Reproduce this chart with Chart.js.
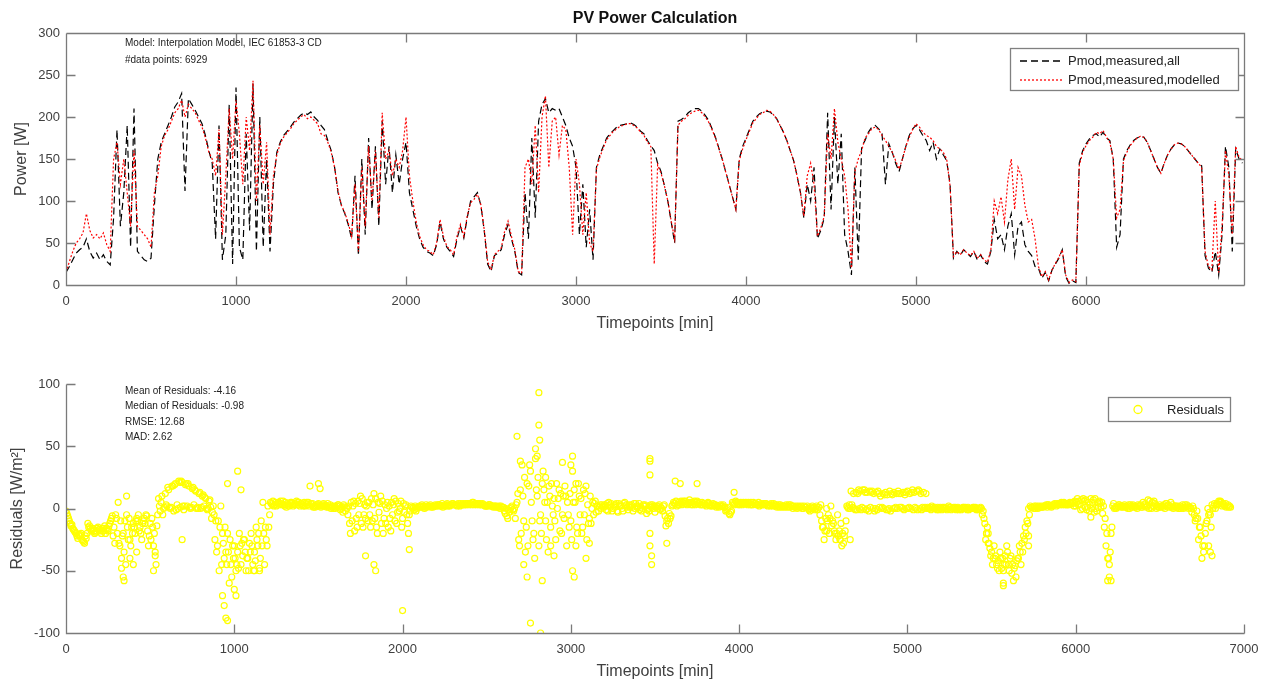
<!DOCTYPE html>
<html lang="en">
<head>
<meta charset="UTF-8">
<title>PV Power Calculation</title>
<script src="https://cdn.jsdelivr.net/npm/chart.js"></script>
<style>
    body { margin: 0; background: #fff; }
    #wrap { position: relative; width: 1274px; height: 681px; }
    canvas { position: absolute; left: 0; }
    #powerChart { top: 0; }
    #residualChart { top: 340px; }
</style>
</head>
<body>
<div id="wrap">
    <canvas id="powerChart" width="1274" height="340"></canvas>
    <canvas id="residualChart" width="1274" height="341"></canvas>
</div>
<script>
// sample spacing of the series [min]
const STEP = 20;

const powerTimeTicks = [0, 1000, 2000, 3000, 4000, 5000, 6000];
const residualTimeTicks = [0, 1000, 2000, 3000, 4000, 5000, 6000, 7000];

// measured module power [W], one value every STEP minutes from t = 0
const pMeasured = [
    15, 22, 30, 38, 42, 45, 55, 40, 32, 38,
    30, 36, 28, 24, 80, 185, 70, 110, 190, 45,
    210, 40, 35, 30, 28, 32, 95, 150, 170, 180,
    190, 200, 212, 218, 228, 112, 222, 215, 208, 200,
    192, 178, 160, 145, 55, 190, 30, 60, 215, 25,
    235, 45, 30, 180, 65, 240, 40, 200, 45, 150,
    40, 120, 158, 170, 178, 183, 188, 194, 198, 202,
    205, 203, 206, 200, 196, 190, 185, 172, 160, 140,
    110, 95, 85, 72, 55, 130, 35, 150, 60, 175,
    90, 165, 70, 195, 120, 165, 110, 155, 120, 150,
    170, 110, 90, 70, 55, 45, 40, 38, 35, 48,
    75, 55, 45, 40, 34, 55, 70, 56, 80, 100,
    105, 110, 95, 65, 25, 16, 35, 38, 42, 60,
    72, 55, 40, 15, 12, 110, 55, 175, 80, 195,
    215, 222, 205, 210, 208, 210, 200, 190, 175, 165,
    140, 60, 120, 45, 90, 30, 140, 155, 165, 175,
    180, 184, 188, 190, 191, 192, 193, 191, 188, 183,
    180, 172, 166, 160, 145, 135, 118, 100, 75, 50,
    195, 197, 200, 205, 208, 210, 210, 207, 202, 196,
    186, 176, 163, 150, 135, 120, 105, 90, 150, 165,
    175, 185, 195, 200, 204, 206, 207, 206, 203, 198,
    190, 182, 172, 160, 148, 130, 110, 80, 120, 100,
    140, 55, 65, 80, 205, 90, 200, 120, 180, 60,
    40, 12, 140, 30, 165, 172, 182, 188, 190, 186,
    180, 120, 168, 158, 145, 135, 150, 165, 178, 186,
    190, 185, 178, 172, 160, 170, 150, 162, 155, 148,
    120, 32, 40, 35, 42, 38, 34, 40, 30, 36,
    28, 25, 40, 78, 55, 60, 42, 70, 85, 36,
    70, 75, 48, 40, 35, 22, 20, 8, 15, 5,
    18, 25, 32, 42, 10, 2, 5, 3, 145, 160,
    168, 174, 178, 180, 176, 182, 175, 172, 150, 45,
    60, 150, 160, 167, 172, 175, 177, 176, 170, 160,
    150, 140, 133, 145, 155, 162, 167, 169, 168, 165,
    160, 155, 150, 145, 142, 35, 20, 15, 40, 12,
    60, 165, 140, 40, 162, 150, 145
];

// modelled module power [W], same time grid
const pModelled = [
    15, 28, 40, 50, 55, 62, 85, 65, 56, 60,
    55, 62, 48, 40, 150, 170, 120, 150, 110, 70,
    160, 70, 65, 60, 55, 45, 110, 130, 165, 178,
    185, 195, 205, 210, 220, 200, 215, 210, 205, 196,
    188, 175, 158, 150, 130, 185, 60, 130, 210, 150,
    220, 180, 120, 200, 160, 243, 100, 190, 120, 170,
    60, 130, 155, 168, 176, 181, 186, 192, 196, 200,
    203, 198, 200, 196, 192, 180, 178, 170, 158, 140,
    112, 95, 86, 74, 58, 120, 40, 140, 70, 165,
    100, 160, 80, 205, 150, 160, 130, 150, 140, 160,
    200, 130, 100, 75, 58, 48, 42, 40, 36, 50,
    78, 58, 46, 42, 36, 58, 72, 58, 82, 98,
    102, 108, 96, 66, 28, 18, 36, 40, 44, 64,
    76, 58, 42, 16, 14, 140, 150, 120, 190, 110,
    200, 225, 140, 195, 200, 155, 190, 185, 140, 60,
    150, 120, 60, 110, 50, 40, 138, 152, 163, 173,
    178, 183, 186, 189, 190, 192, 192, 190, 187, 182,
    178, 170, 165, 25, 143, 133, 118, 100, 76, 55,
    190, 195, 198, 202, 205, 207, 208, 205, 200, 194,
    185, 175, 162, 150, 135, 120, 105, 90, 148, 162,
    173, 183, 193, 198, 203, 205, 208, 207, 203, 198,
    190, 182, 172, 160, 148, 130, 110, 82, 130, 145,
    120, 58, 68, 82, 180, 150, 210, 170, 150, 130,
    90, 20, 135, 150, 160, 175, 180, 186, 188, 185,
    178, 172, 165, 158, 148, 138, 150, 165, 176, 185,
    192, 188, 182, 178, 176, 172, 165, 162, 158, 150,
    118, 34, 40, 36, 42, 38, 35, 40, 32, 36,
    30, 27, 42, 100, 85, 105, 75, 125, 150, 90,
    140, 130, 95, 75, 78, 55, 22, 10, 16, 6,
    18, 26, 33, 42, 12, 3, 6, 4, 142, 158,
    166, 172, 176, 182, 180, 184, 176, 170, 150, 80,
    90, 148, 158, 166, 171, 175, 177, 176, 170, 160,
    150, 140, 133, 145, 155, 162, 167, 169, 168, 165,
    160, 155, 150, 145, 140, 40, 22, 18, 100, 15,
    70, 160, 130, 60, 165, 152, 148
];

// residuals [W/m²] at t = 0, 20, 40 ...
const res00 = [
    -2, -10, -16, -20, -22, -26, -24, -14, -16, -18,
    -17, -18, -16, -12, -22, -8, -30, -20, -5, -25,
    -12, -8, -15, -10, -6, -12, -30, -14, -2, 0,
    2, 0, -2, 3, 1, -1, 2, 0, 3, 1,
    0, 2, -1, 1, -5, -30, 2, -40, -20, -45,
    -30, -35, -45, -25, -40, -20, -35, -30, -10, -45,
    2, 4, 3, 5, 4, 2, 3, 5, 4, 3,
    4, 2, 5, 3, 1, 4, 2, 3, 1, 2,
    0, 3, 1, -2, 2, -10, 4, -5, 8, -8,
    5, -10, 8, -3, 6, -12, 2, -5, 6, -2,
    -8, 3, -5, 0, -2, 2, 1, 3, 2, 1,
    2, 3, 1, 3, 2, 4, 3, 2, 4, 3,
    4, 5, 3, 4, 3, 2, 3, 1, 2, 0,
    1, -6, 0, -2, 5, 15, -10, 20, 30, -20,
    10, -5, 15, 5, -15, 8, 0, 12, -8, 5,
    -10, 15, -20, 8, -5, 3, -12, 4, 2, 0,
    3, -2, 4, 1, -3, 2, 5, -1, 3, 0,
    2, -2, 3, 0, 1, -3, 2, 0, -6, -12,
    2, 4, 5, 3, 6, 4, 5, 3, 4, 5,
    3, 4, 2, 3, 1, 2, -2, -4, 5, 6,
    4, 3, 5, 4, 3, 4, 2, 3, 4, 3,
    2, 3, 1, 2, 3, 1, 0, 2, 1, 0,
    1, -2, 0, 2, -5, -15, 0, -8, -12, -20,
    -25, -28, 2, 0, 12, -1, 14, 0, 13, 1,
    12, -1, 10, 0, 11, -2, 13, 0, 12, -1,
    14, 0, 13, -1, 12, 0, 1, -1, 0, 1,
    0, 1, 0, -1, 0, 1, -1, 0, 1, 0,
    0, -1, 0, -12, -20, -35, -40, -42, -48, -38,
    -45, -52, -46, -40, -28, -15, 0, 1, 0, 2,
    1, 2, 3, 2, 3, 4, 3, 4, 3, 5,
    2, 6, 0, 7, -2, 5, 0, 6, -4, -30,
    -45, 2, 0, 3, 1, 2, 0, 3, 1, 2,
    5, 1, 6, 2, 0, 3, 1, 4, 2, 0,
    1, 2, 0, 3, 1, 0, -2, -15, -35, -10,
    -5, 2, 4, 6, 3, 2, 1
];

// residuals [W/m²] at t = 5, 25, 45 ...
const res05 = [
    -4, -12, -17, -22, -21, -27, -20, -16, -18, -16,
    -18, -16, -17, -10, -15, -20, -10, -35, -15, -30,
    -15, -10, -20, -8, -18, -25, -20, -5, 5, 1,
    17, 1, 19, 0, 22, 2, 20, 1, 15, 0,
    1, 9, 0, -8, -25, -10, -45, -15, -35, -55,
    -40, -48, -28, -35, -50, -30, -42, -20, -30, -15,
    -15, 3, 5, 4, 3, 5, 2, 4, 3, 5,
    3, 4, 2, 4, 2, 3, 3, 2, 2, 1,
    1, 2, -3, 1, -12, 2, -8, 4, -15, 2,
    -5, 3, -15, 4, -20, 0, -8, 3, -12, 0,
    4, -5, -2, 1, 0, 1, 2, 1, 3, 2,
    2, 2, 2, 4, 3, 3, 2, 4, 3, 4,
    4, 3, 4, 3, 3, 2, 2, 2, 1, 2,
    -2, -8, 1, 0, 12, -20, 25, -30, 5, -40,
    25, -20, 5, -35, 20, -10, 8, -20, 18, -5,
    -25, 5, 20, -20, 12, -12, 0, 6, -2, 3,
    2, 5, -2, 3, 4, 0, 2, 3, 1, 4,
    4, 0, 2, -2, 3, 1, 3, -2, -14, -4,
    3, 6, 3, 5, 4, 7, 3, 5, 5, 3,
    2, 3, 4, 1, 2, 3, -1, -5, 4, 5,
    3, 5, 4, 3, 5, 3, 3, 4, 3, 2,
    4, 1, 3, 2, 1, 3, 2, 0, 1, 2,
    2, 0, 1, -1, 3, -25, -10, 2, -18, -5,
    -12, -22, 1, 14, 0, 12, -1, 15, 0, 13,
    -2, 14, 0, 11, -1, 12, 0, 14, 1, 11,
    0, 13, 1, 15, -1, 1, 0, 2, 1, -1,
    -1, 0, 2, 0, 1, -1, 0, 1, -1, 0,
    1, 0, -5, -25, -28, -45, -38, -50, -40, -45,
    -50, -45, -55, -30, -35, -20, -5, 1, 2, 1,
    1, 3, 2, 3, 2, 4, 4, 3, 5, 4,
    5, 3, 8, -1, 3, 7, -2, 4, 2, -20,
    -35, 4, 1, 2, 2, 1, 3, 2, 0, 3,
    3, 2, 1, 6, 2, 1, 3, 2, 5, 1,
    2, 0, 1, 2, 0, -5, -8, -22, -30, 0,
    -15, 4, 3, 5, 2, 3
];

// residuals [W/m²] at t = 10, 30, 50 ...
const res10 = [
    -6, -14, -18, -24, -20, -28, -12, -18, -20, -15,
    -20, -14, -18, -8, -28, 5, -40, -10, -25, -15,
    -20, -5, -25, -12, -30, -8, -35, 8, 10, 12,
    15, 18, 20, 22, 21, 19, 18, 16, 14, 12,
    10, 8, 6, -3, -10, -50, -20, -35, -60, -30,
    -50, -20, -38, -50, -28, -45, -15, -50, 5, -25,
    -5, 6, 2, 3, 6, 1, 4, 2, 6, 2,
    2, 5, 18, 1, 3, 2, 4, 1, 3, 0,
    2, -1, 3, 0, -20, 6, -15, 10, -5, 5,
    -15, 12, -20, 10, -8, 5, -18, 8, -3, 6,
    -3, -12, 2, -1, 1, 2, 0, 2, 1, 2,
    3, 2, 3, 2, 3, 3, 4, 3, 3, 4,
    3, 4, 4, 3, 2, 3, 2, 2, 1, 1,
    -4, -1, 2, -8, -25, 35, -35, 18, -10, 40,
    -30, 20, -10, 18, 2, -25, 15, -5, 10, -15,
    30, -30, 10, -15, 18, -8, 5, -3, 1, 2,
    -1, 3, 0, 4, 2, -2, 3, 1, -2, 2,
    -1, 3, -4, 2, 0, 2, -1, 2, -10, -8,
    5, 2, 4, 6, 3, 5, 4, 6, 3, 4,
    4, 2, 3, 2, 3, 1, 0, -3, 3, 4,
    5, 4, 3, 5, 4, 3, 4, 3, 2, 4,
    3, 2, 2, 1, 2, 2, 1, 1, 2, 1,
    0, 1, -1, 1, -10, -18, -5, -14, -20, -22,
    -30, -18, 0, 3, -1, 15, 1, 13, -2, 14,
    0, 12, 1, 13, 0, 11, 1, 12, 0, 13,
    1, 15, 0, 14, 1, 12, 0, 1, 0, 0,
    1, 0, 1, 0, -1, 0, 1, 0, 0, 1,
    -1, 0, -2, -20, -32, -40, -45, -35, -50, -30,
    -40, -58, -42, -35, -22, -10, 2, 0, 1, 1,
    2, 1, 2, 3, 4, 3, 5, 3, 4, 2,
    8, -1, 6, 1, 8, -3, 5, 1, -15, -58,
    -20, 0, 2, 1, 3, 0, 2, 1, 3, 1,
    2, 7, 0, 4, 1, 2, 0, 3, 1, 2,
    0, 1, 3, 0, -3, -10, -25, -40, -20, -5,
    3, 0, 6, 2, 4, 1
];

// residuals [W/m²] at t = 15, 35, 55 ...
const res15 = [
    -8, -13, -19, -21, -25, -22, -15, -17, -19, -17,
    -16, -20, -14, -6, -5, -28, -22, -45, -8, -20,
    -10, -18, -12, -5, -22, -15, -45, 2, -5, 3,
    1, 18, -1, 21, 2, 20, 1, 17, 0, 13,
    11, 0, 7, 2, -35, -15, -28, -45, -25, -40,
    -45, -30, -25, -40, -35, -50, -25, -40, -20, -30,
    5, 2, 4, 6, 3, 4, 5, 3, 5, 4,
    5, 3, 4, 2, 3, 1, 2, 4, 0, 2,
    3, 0, 2, -5, 5, -18, 6, -12, 3, -10,
    8, -8, 5, -12, 3, -15, 5, -10, 4, -15,
    2, -20, 1, 2, 1, 3, 1, 2, 2, 3,
    3, 4, 2, 3, 4, 3, 3, 3, 4, 3,
    5, 4, 3, 4, 2, 3, 2, 1, 2, 1,
    0, -3, -1, 3, -30, 10, -15, 35, -25, 15,
    -10, 30, -25, 10, -5, 20, -18, 10, -30, 12,
    5, -15, -5, 15, -25, 10, -5, 2, 3, 1,
    4, 1, 3, -2, 3, 4, 1, 2, 4, 1,
    1, 2, -1, 3, 2, 0, 1, 3, -8, -6,
    4, 3, 6, 4, 5, 3, 6, 4, 3, 4,
    5, 3, 3, 2, 2, 1, 1, -2, 4, 3,
    4, 4, 5, 3, 4, 5, 3, 4, 3, 3,
    2, 3, 1, 2, 3, 2, 1, 2, 0, 1,
    -1, 2, 0, 1, -15, -8, -20, -10, -25, -18,
    -20, -10, 3, 1, 13, 0, 15, -1, 14, 0,
    13, 1, 12, -1, 14, 0, 12, 1, 13, 0,
    12, -1, 14, 0, 13, 0, 1, 0, -1, 1,
    0, -1, 1, 1, 0, 0, 1, -1, 0, 1,
    0, 1, -8, -15, -38, -30, -48, -40, -45, -35,
    -38, -48, -40, -45, -25, -12, 1, 2, 0, 2,
    2, 3, 1, 4, 3, 5, 3, 4, 4, 6,
    3, 7, 1, 5, 0, 8, 1, 5, -8, -40,
    -15, 1, 3, 2, 1, 3, 1, 2, 2, 1,
    4, 0, 5, 3, 1, 2, 4, 1, 3, 2,
    0, 3, 1, 1, 2, -8, -15, -30, -12, -3,
    0, 3, 5, 4, 1, 2
];

// isolated residual points [t, W/m²]
const resScatter = [
    [330, -48], [340, -55], [345, -58], [360, 10], [380, -40], [400, -45], [420, -35],
    [520, -50], [530, -38], [690, -25], [930, -70], [940, -78], [950, -88], [960, -90],
    [960, 20], [1000, -65], [1010, -70], [1020, 30], [1040, 15], [1120, -50], [1150, -48],
    [1500, 20], [1510, 16], [1780, -38], [1830, -45], [1840, -50], [2000, -82], [2040, -33],
    [2680, 58], [2700, 38], [2720, -45], [2740, -55], [2760, -92], [2790, 48], [2800, 42],
    [2810, 67], [2815, 55], [2810, 93], [2820, -100], [2830, -58], [2850, 25], [2880, -30],
    [2900, -38], [2950, 37], [3000, 35], [3010, 42], [3010, -50], [3020, -55], [3030, 20],
    [3090, -40], [3110, -28], [3470, 40], [3470, 38], [3470, 27], [3470, -20], [3470, -30],
    [3480, -38], [3480, -45], [3570, -28], [3620, 22], [3650, 20], [3750, 20], [3970, 13],
    [4520, -18], [4600, -25], [4660, -25], [5470, -20], [5480, -28], [5570, -60], [5570, -62],
    [5720, -22], [5720, -30], [6090, -7], [6190, -40], [6200, -55], [6210, -58],
    [6790, -30], [6800, -35], [6810, -38]
];

const powerInfo = ['Model: Interpolation Model, IEC 61853-3 CD', '#data points: 6929'];
const residualInfo = ['Mean of Residuals: -4.16', 'Median of Residuals: -0.98', 'RMSE: 12.68', 'MAD: 2.62'];

const FONT = "'Liberation Sans', Arial, sans-serif";
const AXIS_COLOR = '#7a7a7a';
const TEXT_COLOR = '#404040';
const TICK_LEN = 9;

Chart.defaults.font.family = FONT;
Chart.defaults.color = TEXT_COLOR;

const toPoints = (vals, offset) => vals.map((v, i) => ({ x: offset + i * STEP, y: v }));

// axes frame with inward tick marks, MATLAB style
function drawFrame(chart, fullBox) {
    const { ctx, chartArea: a, scales: { x, y } } = chart;
    const L = Math.round(a.left) + 0.5, R = Math.round(a.right) + 0.5;
    const T = Math.round(a.top) + 0.5, B = Math.round(a.bottom) + 0.5;
    ctx.save();
    ctx.strokeStyle = AXIS_COLOR;
    ctx.lineWidth = 1.3;
    ctx.beginPath();
    ctx.moveTo(L, T); ctx.lineTo(L, B); ctx.lineTo(R, B);
    if (fullBox) { ctx.moveTo(L, T); ctx.lineTo(R, T); ctx.lineTo(R, B); }
    x.ticks.forEach(t => {
        const px = Math.round(x.getPixelForValue(t.value)) + 0.5;
        ctx.moveTo(px, B); ctx.lineTo(px, B - TICK_LEN);
        if (fullBox) { ctx.moveTo(px, T); ctx.lineTo(px, T + TICK_LEN); }
    });
    y.ticks.forEach(t => {
        const py = Math.round(y.getPixelForValue(t.value)) + 0.5;
        ctx.moveTo(L, py); ctx.lineTo(L + TICK_LEN, py);
        if (fullBox) { ctx.moveTo(R, py); ctx.lineTo(R - TICK_LEN, py); }
    });
    ctx.stroke();
    ctx.restore();
}

function drawInfo(ctx, lines, x, y0, gap) {
    ctx.save();
    ctx.font = '10px ' + FONT;
    ctx.fillStyle = '#222';
    ctx.textBaseline = 'middle';
    lines.forEach((s, i) => ctx.fillText(s, x, y0 + i * gap));
    ctx.restore();
}

function legendBox(ctx, x, y, w, h) {
    ctx.fillStyle = '#fff';
    ctx.fillRect(x, y, w, h);
    ctx.strokeStyle = '#808080';
    ctx.lineWidth = 1.3;
    ctx.strokeRect(x + 0.5, y + 0.5, w, h);
}

const powerDecor = {
    id: 'powerDecor',
    afterDraw(chart) {
        const { ctx, chartArea: a } = chart;
        drawFrame(chart, true);
        ctx.save();
        ctx.font = 'bold 16px ' + FONT;
        ctx.fillStyle = '#111';
        ctx.textAlign = 'center';
        ctx.textBaseline = 'middle';
        ctx.fillText('PV Power Calculation', (a.left + a.right) / 2, 19);
        ctx.restore();
        drawInfo(ctx, powerInfo, 125, 43, 17);

        ctx.save();
        legendBox(ctx, 1010, 48, 228, 42);
        const ds = chart.data.datasets;
        [61, 80].forEach((ly, i) => {
            ctx.beginPath();
            ctx.strokeStyle = ds[i].borderColor;
            ctx.lineWidth = 1.3;
            ctx.setLineDash(ds[i].borderDash);
            ctx.moveTo(1020, ly); ctx.lineTo(1063, ly);
            ctx.stroke();
            ctx.setLineDash([]);
            ctx.font = '13px ' + FONT;
            ctx.fillStyle = '#222';
            ctx.textBaseline = 'middle';
            ctx.fillText(ds[i].label, 1068, ly);
        });
        ctx.restore();
    }
};

const residualDecor = {
    id: 'residualDecor',
    afterDraw(chart) {
        const { ctx } = chart;
        drawFrame(chart, false);
        drawInfo(ctx, residualInfo, 125, 51, 15.5);
        ctx.save();
        legendBox(ctx, 1108, 57, 122, 24);
        ctx.beginPath();
        ctx.strokeStyle = '#ffff00';
        ctx.lineWidth = 1.3;
        ctx.arc(1138, 69.5, 4, 0, Math.PI * 2);
        ctx.stroke();
        ctx.font = '13px ' + FONT;
        ctx.fillStyle = '#222';
        ctx.textBaseline = 'middle';
        ctx.fillText('Residuals', 1167, 70);
        ctx.restore();
    }
};

function yAxis(min, max, step, title, titlePad, width) {
    return {
        type: 'linear', min, max,
        ticks: { stepSize: step, padding: 6, font: { size: 13 }, color: TEXT_COLOR },
        grid: { display: false, drawTicks: false },
        border: { display: false },
        title: { display: true, text: title, font: { size: 16 }, color: TEXT_COLOR, padding: { top: titlePad, bottom: 0 } },
        afterFit(scale) { scale.width = width; }
    };
}

function xAxis(max, tickValues, height, titlePad) {
    return {
        type: 'linear', min: 0, max,
        ticks: { padding: 9, font: { size: 13 }, color: TEXT_COLOR, maxRotation: 0, autoSkip: false, callback: v => String(v) },
        grid: { display: false, drawTicks: false },
        border: { display: false },
        title: { display: true, text: 'Timepoints [min]', font: { size: 16 }, color: TEXT_COLOR, padding: { top: 0, bottom: titlePad } },
        afterBuildTicks(scale) { scale.ticks = tickValues.map(v => ({ value: v })); },
        afterFit(scale) { scale.height = height; }
    };
}

new Chart(document.getElementById('powerChart'), {
    type: 'line',
    data: {
        datasets: [{
            label: 'Pmod,measured,all',
            data: toPoints(pMeasured, 0),
            borderColor: '#000000',
            borderDash: [7, 4],
            borderWidth: 1.2,
            pointRadius: 0,
            order: 1
        }, {
            label: 'Pmod,measured,modelled',
            data: toPoints(pModelled, 0),
            borderColor: '#ff0000',
            borderDash: [2, 2],
            borderWidth: 1.2,
            pointRadius: 0,
            order: 0
        }]
    },
    options: {
        responsive: false,
        animation: false,
        parsing: false,
        layout: { padding: { top: 33, right: 30, bottom: 0, left: 0 } },
        plugins: { legend: { display: false }, tooltip: { enabled: false } },
        scales: {
            x: xAxis(6929, powerTimeTicks, 55, 7),
            y: yAxis(0, 300, 50, 'Power [W]', 12, 66)
        }
    },
    plugins: [powerDecor]
});

const residualStyle = {
    type: 'scatter',
    label: 'Residuals',
    pointRadius: 3,
    pointBorderWidth: 1.2,
    pointBorderColor: '#ffff00',
    pointBackgroundColor: 'rgba(0,0,0,0)',
    showLine: false
};

new Chart(document.getElementById('residualChart'), {
    type: 'scatter',
    data: {
        datasets: [
            { ...residualStyle, data: toPoints(res00, 0) },
            { ...residualStyle, data: toPoints(res05, 5) },
            { ...residualStyle, data: toPoints(res10, 10) },
            { ...residualStyle, data: toPoints(res15, 15) },
            { ...residualStyle, data: resScatter.map(p => ({ x: p[0], y: p[1] })) }
        ]
    },
    options: {
        responsive: false,
        animation: false,
        parsing: false,
        layout: { padding: { top: 44, right: 30, bottom: 0, left: 0 } },
        plugins: { legend: { display: false }, tooltip: { enabled: false } },
        scales: {
            x: xAxis(7000, residualTimeTicks, 48, 0),
            y: yAxis(-100, 100, 50, 'Residuals [W/m²]', 8, 66)
        }
    },
    plugins: [residualDecor]
});
</script>
</body>
</html>
